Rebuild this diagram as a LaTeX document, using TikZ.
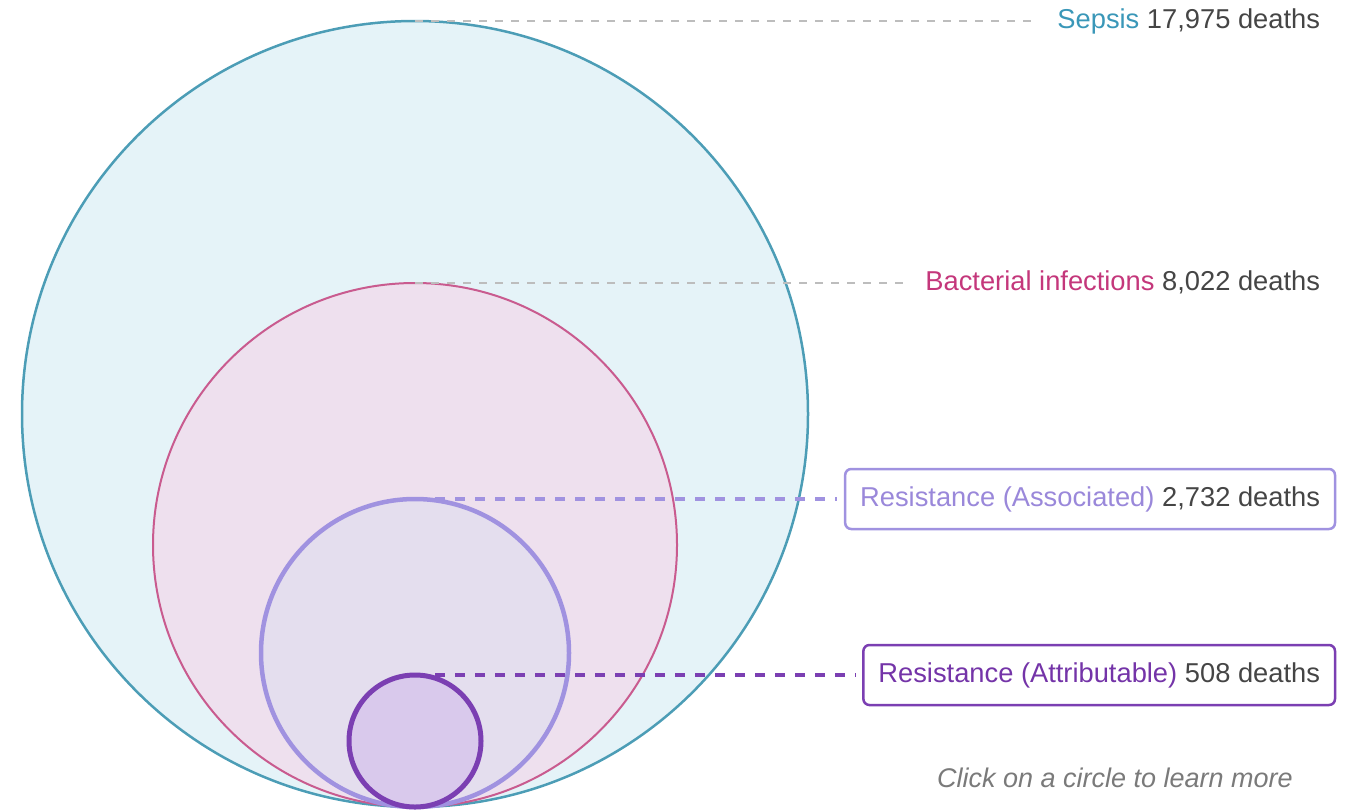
\documentclass[tikz,border=0pt]{standalone}
\usepackage{fontspec}
\setmainfont{Liberation Sans}
\definecolor{sepline}{HTML}{4C9DB6}
\definecolor{sepfill}{HTML}{E5F3F8}
\definecolor{septext}{HTML}{3A97B8}
\definecolor{bacline}{HTML}{C95B8F}
\definecolor{bacfill}{HTML}{EEE0EE}
\definecolor{bactext}{HTML}{C4377B}
\definecolor{ascline}{HTML}{A092E0}
\definecolor{ascfill}{HTML}{E4DEEE}
\definecolor{asctext}{HTML}{9A88DA}
\definecolor{attline}{HTML}{7B3FB2}
\definecolor{attfill}{HTML}{D9C9EC}
\definecolor{atttext}{HTML}{7434A8}
\definecolor{numtext}{HTML}{454545}
\definecolor{hinttext}{HTML}{7A7A7A}
\definecolor{greydash}{HTML}{BDBDBD}
\begin{document}
\begin{tikzpicture}[x=1pt,y=-1pt,
    lbl/.style={anchor=east,inner xsep=15pt,inner ysep=0pt,outer sep=0pt,minimum height=60pt,text height=19pt,text depth=5pt,
        text=numtext,font=\fontsize{27.3}{32}\selectfont,rounded corners=6pt,line width=2.5pt},
    gline/.style={draw=greydash,line width=2pt,dash pattern=on 8pt off 8pt,shorten >=7pt},
    pline/.style={line width=4.5pt,dash pattern=on 10pt off 10pt,shorten >=8pt}]
\useasboundingbox (0,0) rectangle (1351,809);
\foreach \n/\y/\r/\w in {sep/414/393/2.5,bac/545/262/2,asc/653/154/4.5,att/741/66/5}
    \node[circle,draw=\n line,fill=\n fill,line width=\w,minimum size=2*\r,inner sep=0pt,outer sep=0pt] (\n) at (415,\y) {};
\node[lbl] (lsep) at (1335,21) {\textcolor{septext}{Sepsis} 17,975 deaths};
\node[lbl] (lbac) at (1335,283) {\textcolor{bactext}{Bacterial infections} 8,022 deaths};
\node[lbl,draw=ascline] (lasc) at (1335,499) {\textcolor{asctext}{Resistance (Associated)} 2,732 deaths};
\node[lbl,draw=attline] (latt) at (1335,675) {\textcolor{atttext}{Resistance (Attributable)} 508 deaths};
\node[text=hinttext,font=\fontsize{27}{32}\selectfont\itshape] (hint) at (1115,778) {Click on a circle to learn more};
\draw[gline] (sep.north) -- (lsep.west);
\draw[gline] (bac.north) -- (lbac.west);
\draw[pline,draw=ascline] (asc.north) -- (lasc.west);
\draw[pline,draw=attline] (att.north) -- (latt.west);
\end{tikzpicture}
\end{document}
